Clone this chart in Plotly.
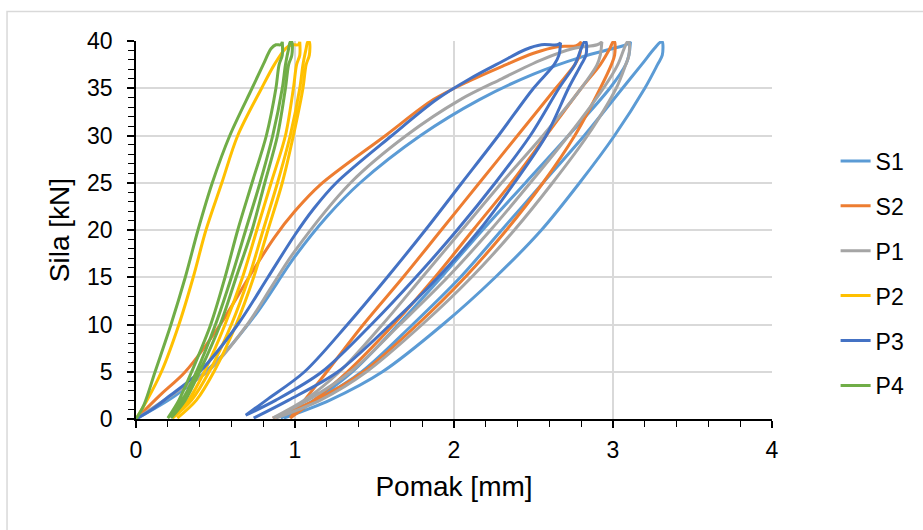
import plotly.graph_objects as go

names = ["S1", "S2", "P1", "P2", "P3", "P4"]
colors = ["#5B9BD5", "#ED7D31", "#A5A5A5", "#FFC000", "#4472C4", "#70AD47"]

# --- S1 ---
S1_load = [[0,0],[0.25,2.5],[0.5,6],[0.75,11],[1.0,17.2],[1.2,21.4],[1.41,25],[1.79,30],[2.16,33.8],[2.5,36.5],[2.8,38.3],[3.0,39.2],[3.08,39.6],[3.11,39.9]]
S1_unload1 = [[3.11,39.9],[3.10,38.5],[3.08,37.5],[2.98,35],[2.72,30],[2.45,25],[2.18,20],[1.92,15],[1.65,10],[1.36,5],[1.12,2],[0.91,0.1]]
S1_reload = [[0.91,0.1],[1.14,2],[1.42,5],[1.74,10],[2.04,15],[2.30,20],[2.56,25],[2.82,30],[3.06,35],[3.18,37.5],[3.26,39.2],[3.30,39.9]]
S1_unload2 = [[3.31,39.9],[3.31,38.5],[3.28,37.5],[3.2,35],[3.01,30],[2.79,25],[2.55,20],[2.26,15],[1.93,10],[1.55,5],[1.22,2],[0.93,0.1]]

# --- S2 ---
S2_load = [[0,0],[0.15,2.5],[0.31,5],[0.53,10],[0.71,15],[0.87,19.2],[1.0,22.0],[1.16,24.8],[1.57,30],[1.87,33.8],[2.1,35.8],[2.3,37.3],[2.5,38.7],[2.65,39.4],[2.77,39.5],[2.80,39.9]]
S2_unload1 = [[2.80,39.9],[2.79,38.5],[2.76,37.5],[2.64,35],[2.40,30],[2.16,25],[1.92,20],[1.68,15],[1.43,10],[1.20,5],[1.06,2],[0.97,0.1]]
S2_reload = [[0.97,0.1],[1.12,2],[1.33,5],[1.62,10],[1.88,15],[2.12,20],[2.36,25],[2.58,30],[2.80,35],[2.92,37.5],[2.98,39.2],[3.0,39.9]]
S2_unload2 = [[3.01,39.9],[3.01,38.5],[2.99,37.5],[2.92,35],[2.76,30],[2.56,25],[2.33,20],[2.07,15],[1.77,10],[1.43,5],[1.13,2],[0.86,0.1]]

# --- P1 ---
P1_load = [[0,0],[0.25,2.8],[0.45,5],[0.70,10],[0.86,14.2],[1.0,17.8],[1.35,25],[1.70,30],[2.04,33.8],[2.3,36],[2.55,38],[2.75,39.2],[2.9,39.6],[2.93,39.9]]
P1_unload1 = [[2.93,39.9],[2.92,38.5],[2.90,37.5],[2.80,35],[2.56,30],[2.30,25],[2.05,20],[1.80,15],[1.55,10],[1.28,5],[1.06,2],[0.86,0.1]]
P1_reload = [[0.86,0.1],[1.08,2],[1.35,5],[1.66,10],[1.96,15],[2.23,20],[2.48,25],[2.72,30],[2.94,35],[3.03,37.5],[3.07,39.2],[3.09,39.9]]
P1_unload2 = [[3.10,39.9],[3.10,38.5],[3.08,37.5],[3.02,35],[2.84,30],[2.62,25],[2.38,20],[2.11,15],[1.80,10],[1.45,5],[1.16,2],[0.88,0.1]]

# --- P2 ---
P2_load = [[0,0],[0.07,2],[0.16,5],[0.27,10],[0.36,15],[0.44,20],[0.54,25],[0.64,30],[0.79,35],[0.87,37.5],[0.94,39.2],[0.98,39.6],[1.02,39.6],[1.03,39.9]]
P2_unload1 = [[1.03,39.9],[1.03,38.5],[1.01,37.5],[0.99,35],[0.94,30],[0.85,25],[0.76,20],[0.67,15],[0.56,10],[0.43,5],[0.33,2],[0.23,0.1]]
P2_reload = [[0.23,0.1],[0.35,2],[0.46,5],[0.60,10],[0.71,15],[0.80,20],[0.89,25],[0.97,30],[1.03,35],[1.05,37.5],[1.07,39.2],[1.08,39.9]]
P2_unload2 = [[1.09,39.9],[1.09,38.5],[1.07,37.5],[1.05,35],[0.99,30],[0.92,25],[0.83,20],[0.74,15],[0.63,10],[0.49,5],[0.38,2],[0.26,0.1]]

# --- P3 ---
P3_load = [[0,0],[0.1,1],[0.2,2.3],[0.4,5],[0.64,10],[0.83,15],[1.0,19.5],[1.12,22.3],[1.26,25],[1.61,30],[1.89,33.8],[2.1,36],[2.3,37.8],[2.45,39.1],[2.55,39.6],[2.65,39.6],[2.67,39.8]]
P3_unload1 = [[2.67,39.8],[2.66,38.5],[2.63,37.5],[2.50,35],[2.28,30],[2.05,25],[1.82,20],[1.58,15],[1.33,10],[1.06,5],[0.82,2],[0.69,0.4]]
P3_reload = [[0.69,0.4],[0.88,2],[1.17,5],[1.48,10],[1.76,15],[2.02,20],[2.26,25],[2.48,30],[2.66,35],[2.76,37.5],[2.80,39.2],[2.82,39.9]]
P3_unload2 = [[2.83,39.9],[2.83,38.5],[2.80,37.5],[2.72,35],[2.58,30],[2.38,25],[2.16,20],[1.90,15],[1.60,10],[1.27,5],[0.96,2],[0.74,0.1]]

# --- P4 ---
P4_load = [[0,0],[0.05,1.5],[0.12,5],[0.22,10],[0.31,15],[0.39,20],[0.48,25],[0.59,30],[0.73,35],[0.80,37.5],[0.85,39.2],[0.88,39.6],[0.91,39.6],[0.92,39.9]]
P4_unload1 = [[0.92,39.9],[0.92,38.5],[0.90,37.5],[0.88,35],[0.82,30],[0.73,25],[0.64,20],[0.56,15],[0.47,10],[0.35,5],[0.27,2],[0.20,0.1]]
P4_reload = [[0.20,0.1],[0.29,2],[0.38,5],[0.50,10],[0.60,15],[0.69,20],[0.78,25],[0.86,30],[0.92,35],[0.94,37.5],[0.96,39.2],[0.97,39.9]]
P4_unload2 = [[0.98,39.9],[0.98,38.5],[0.96,37.5],[0.94,35],[0.89,30],[0.81,25],[0.73,20],[0.63,15],[0.53,10],[0.40,5],[0.31,2],[0.22,0.1]]

series = {
    "S1": [S1_load, S1_unload1, S1_reload, S1_unload2],
    "S2": [S2_load, S2_unload1, S2_reload, S2_unload2],
    "P1": [P1_load, P1_unload1, P1_reload, P1_unload2],
    "P2": [P2_load, P2_unload1, P2_reload, P2_unload2],
    "P3": [P3_load, P3_unload1, P3_reload, P3_unload2],
    "P4": [P4_load, P4_unload1, P4_reload, P4_unload2],
}

x_ticks = [0, 1, 2, 3, 4]
y_ticks = [0, 5, 10, 15, 20, 25, 30, 35, 40]

FONT = "Liberation Sans, Arial, sans-serif"

fig = go.Figure()
for name, col in zip(names, colors):
    pts = []
    for seg in series[name]:
        pts.extend(seg)
    fig.add_trace(go.Scatter(
        x=[p[0] for p in pts], y=[p[1] for p in pts],
        mode="lines", name=name, legendgroup=name,
        line=dict(color=col, width=3, shape="spline", smoothing=0.9),
        hoverinfo="skip",
    ))

fig.update_layout(
    width=923, height=530,
    margin=dict(l=136, r=151, t=41, b=111),
    paper_bgcolor="white", plot_bgcolor="white",
    font=dict(family=FONT, color="black", size=23),
    showlegend=True,
    legend=dict(x=1.10, xanchor="left", y=0.385, yanchor="middle",
                font=dict(size=23, family=FONT), tracegroupgap=12,
                bgcolor="rgba(0,0,0,0)"),
    xaxis=dict(range=[0, 4], tickvals=x_ticks, showgrid=True, gridcolor="#D9D9D9", gridwidth=1.5,
               zeroline=False, showline=True, linecolor="black", linewidth=1.5,
               ticks="outside", ticklen=7, tickcolor="black", tickwidth=1.5,
               tickfont=dict(size=23), ticklabelstandoff=3,
               minor=dict(dtick=0.2, ticks="outside", ticklen=6, tickcolor="black", tickwidth=1.2, showgrid=False),
               title=dict(text="Pomak [mm]", font=dict(size=28), standoff=14)),
    yaxis=dict(range=[0, 40], tickvals=y_ticks, showgrid=True, gridcolor="#D9D9D9", gridwidth=1.5,
               zeroline=False, showline=True, linecolor="black", linewidth=1.5,
               ticks="outside", ticklen=7, tickcolor="black", tickwidth=1.5,
               tickfont=dict(size=23), ticklabelstandoff=10,
               minor=dict(dtick=1, ticks="outside", ticklen=6, tickcolor="black", tickwidth=1.2, showgrid=False),
               title=dict(text="Sila [kN]", font=dict(size=28), standoff=9)),
    xaxis2=dict(range=[0, 4], overlaying="x", anchor="y", side="bottom", tickvals=x_ticks,
                ticks="inside", ticklen=7, tickcolor="black", tickwidth=1.5,
                showticklabels=False, showgrid=False, zeroline=False, showline=False),
    yaxis2=dict(range=[0, 40], overlaying="y", anchor="x", side="left", tickvals=y_ticks,
                ticks="inside", ticklen=7, tickcolor="black", tickwidth=1.5,
                showticklabels=False, showgrid=False, zeroline=False, showline=False),
    shapes=[dict(type="rect", xref="paper", yref="paper", x0=-0.2028, x1=1.3, y0=-0.35, y1=1.078,
                 line=dict(color="#D9D9D9", width=1.5), layer="below")],
)

fig.write_html("out.html")
